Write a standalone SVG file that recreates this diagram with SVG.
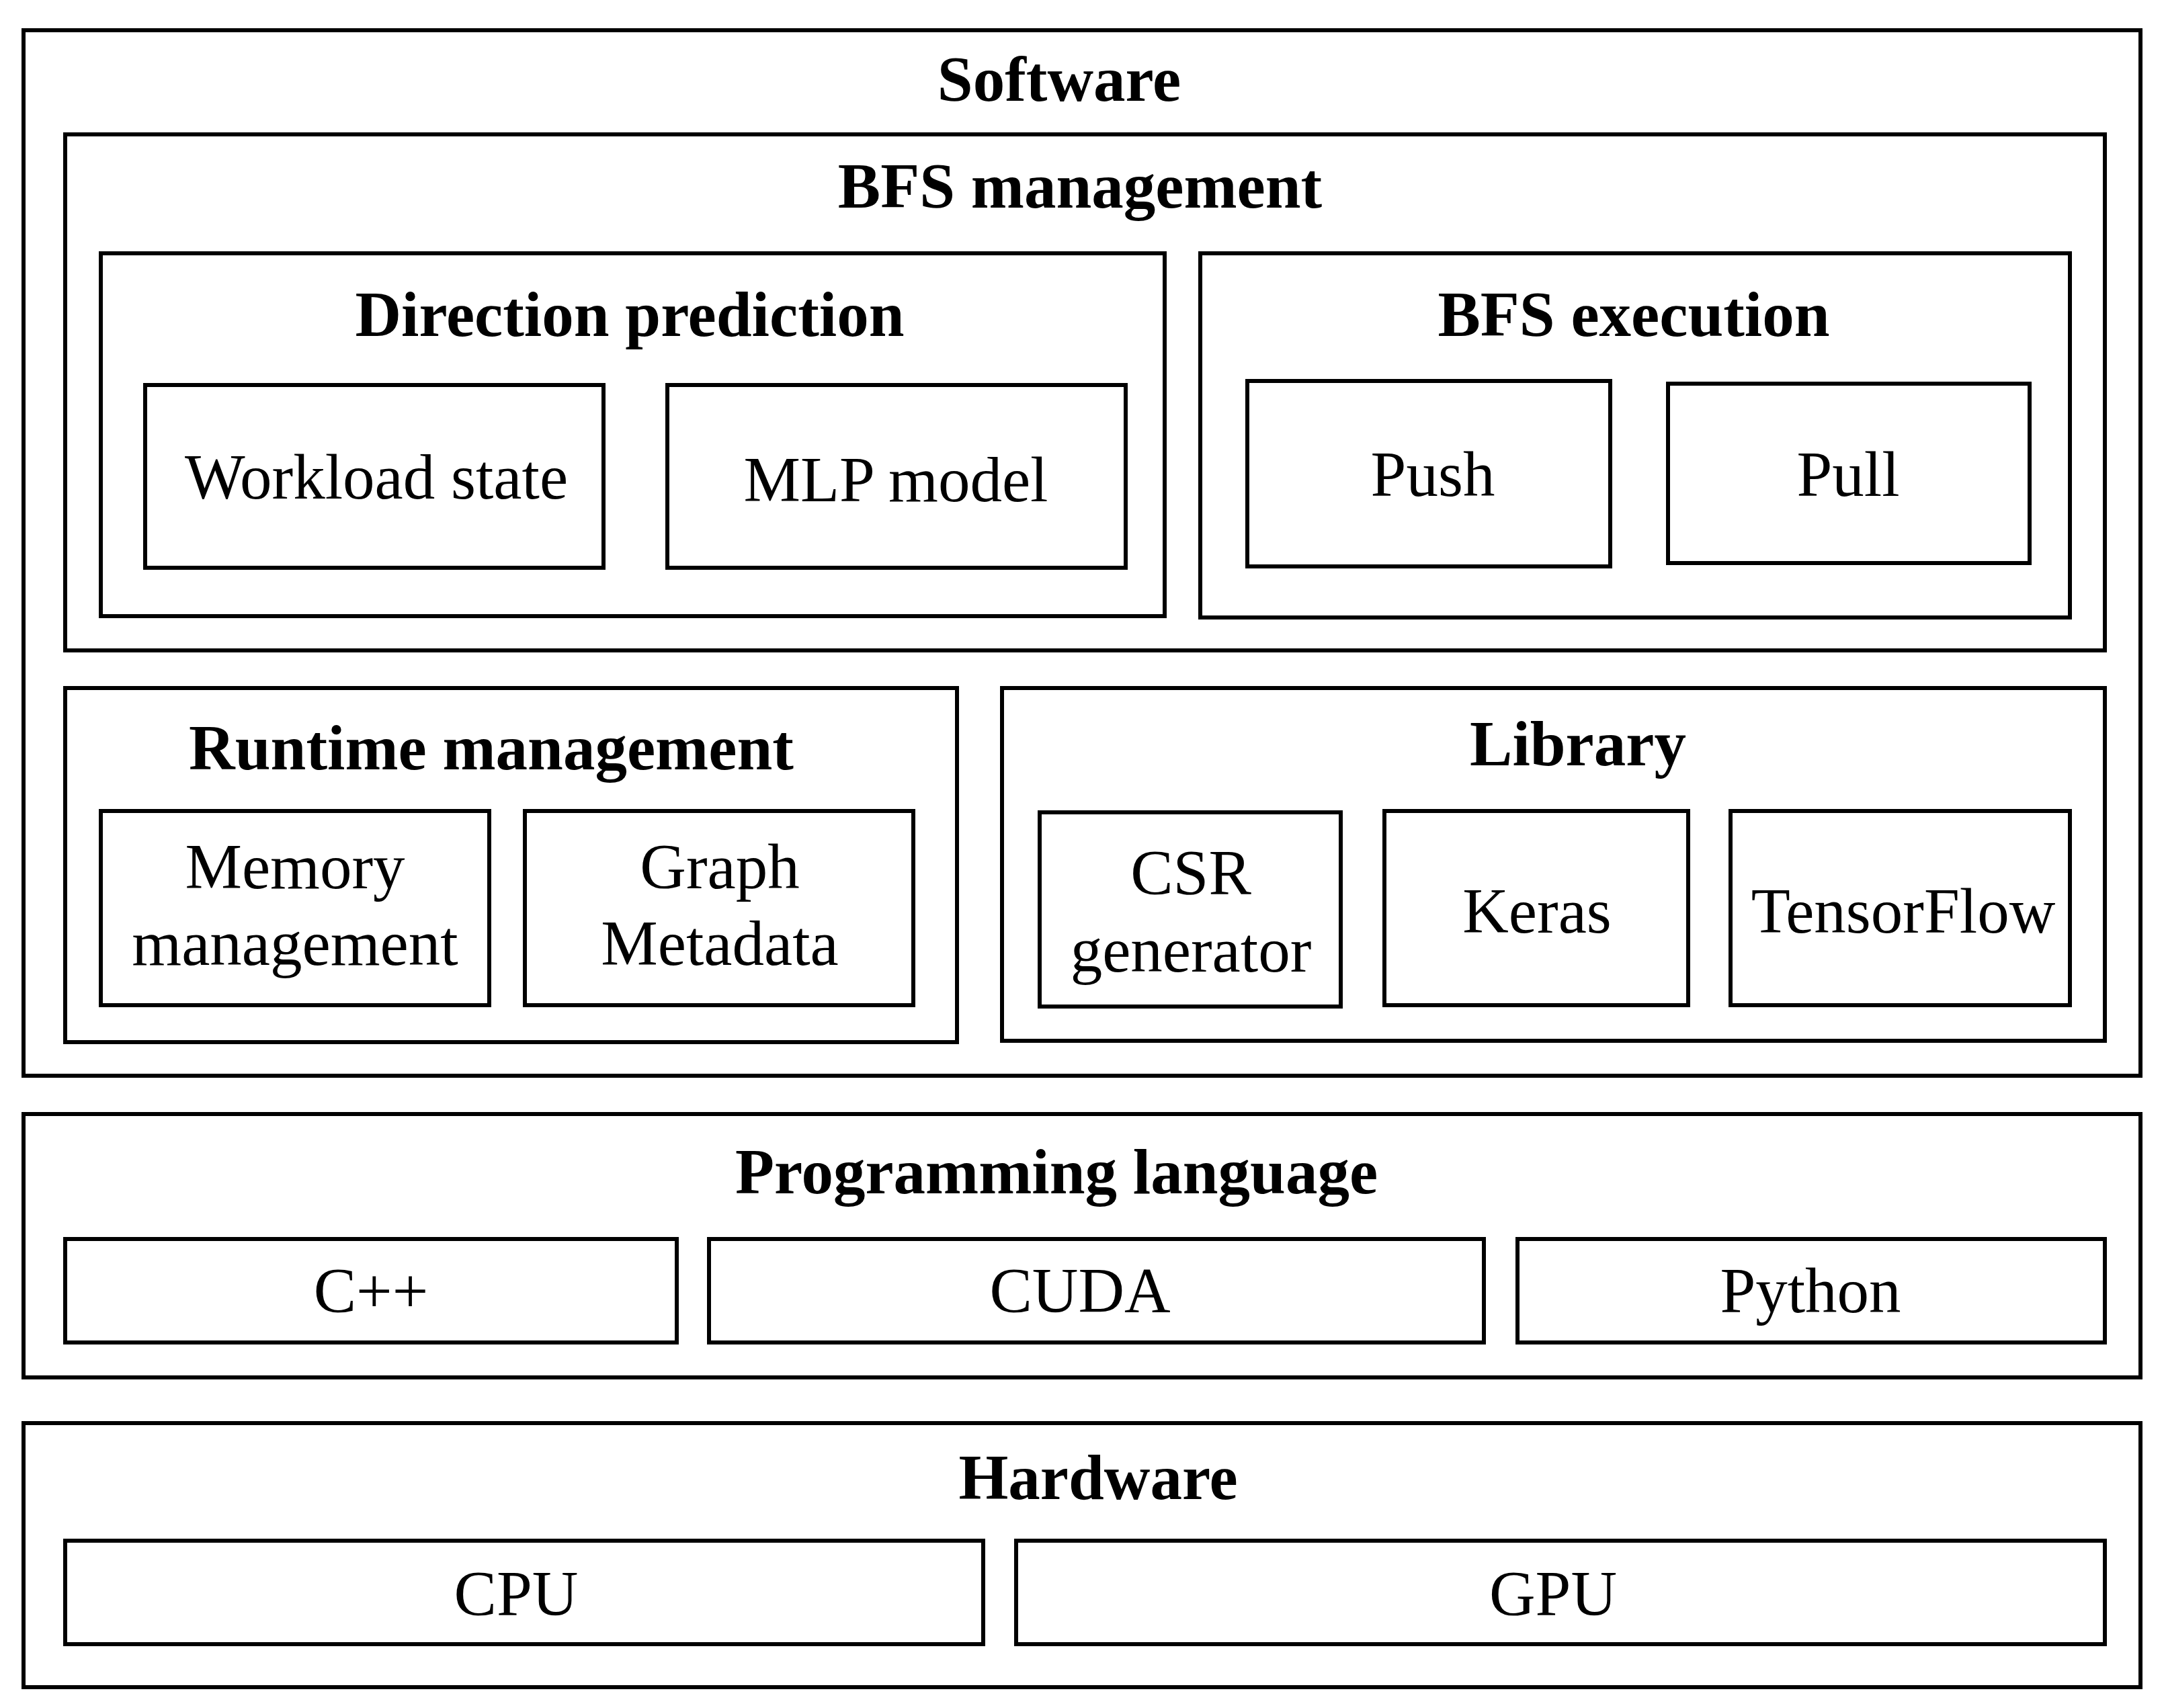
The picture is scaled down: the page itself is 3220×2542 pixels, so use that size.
<svg xmlns="http://www.w3.org/2000/svg" width="3220" height="2542" viewBox="0 0 3220 2542">
<style>
rect{fill:none;stroke:#000;stroke-width:6}
text{font-family:"Liberation Serif","Times New Roman",serif;text-anchor:middle;fill:#000}
.t{font-weight:bold;font-size:95px}
.n{font-size:95px}
</style>
<rect x="0" y="0" width="3220" height="2542" style="fill:#fff;stroke:none"/>
<g id="software"><rect x="35" y="45" width="3150" height="1556"/><text class="t" x="1576" y="150">Software</text></g>
<g id="bfs-management"><rect x="97" y="200" width="3035" height="768"/><text class="t" x="1607" y="309">BFS management</text></g>
<g id="direction-prediction"><rect x="150" y="377" width="1583" height="540"/><text class="t" x="937" y="500">Direction prediction</text></g>
<g id="workload-state"><rect x="216" y="573" width="682" height="272"/><text class="n" x="560" y="742">Workload state</text></g>
<g id="mlp-model"><rect x="993" y="573" width="682" height="272"/><text class="n" x="1333" y="746">MLP model</text></g>
<g id="bfs-execution"><rect x="1786" y="377" width="1294" height="542"/><text class="t" x="2431" y="500">BFS execution</text></g>
<g id="push"><rect x="1856" y="567" width="540" height="276"/><text class="n" x="2132" y="738">Push</text></g>
<g id="pull"><rect x="2482" y="571" width="538" height="267"/><text class="n" x="2750" y="738">Pull</text></g>
<g id="runtime-management"><rect x="97" y="1024" width="1327" height="527"/><text class="t" x="731" y="1145">Runtime management</text></g>
<g id="memory-management"><rect x="150" y="1207" width="578" height="289"/><text class="n" x="439" y="1322">Memory</text><text class="n" x="439" y="1436">management</text></g>
<g id="graph-metadata"><rect x="781" y="1207" width="578" height="289"/><text class="n" x="1071" y="1322">Graph</text><text class="n" x="1071" y="1436">Metadata</text></g>
<g id="library"><rect x="1491" y="1024" width="1641" height="525"/><text class="t" x="2348" y="1139">Library</text></g>
<g id="csr-generator"><rect x="1547" y="1209" width="448" height="289"/><text class="n" x="1772" y="1331">CSR</text><text class="n" x="1772" y="1446">generator</text></g>
<g id="keras"><rect x="2060" y="1207" width="452" height="289"/><text class="n" x="2287" y="1388">Keras</text></g>
<g id="tensorflow"><rect x="2575" y="1207" width="505" height="289"/><text class="n" x="2832" y="1388">TensorFlow</text></g>
<g id="programming-language"><rect x="35" y="1658" width="3150" height="392"/><text class="t" x="1572" y="1776">Programming language</text></g>
<g id="cpp"><rect x="97" y="1844" width="910" height="154"/><text class="n" x="552" y="1953">C++</text></g>
<g id="cuda"><rect x="1055" y="1844" width="1153" height="154"/><text class="n" x="1607" y="1953">CUDA</text></g>
<g id="python"><rect x="2258" y="1844" width="874" height="154"/><text class="n" x="2694" y="1953">Python</text></g>
<g id="hardware"><rect x="35" y="2118" width="3150" height="393"/><text class="t" x="1634" y="2231">Hardware</text></g>
<g id="cpu"><rect x="97" y="2293" width="1366" height="154"/><text class="n" x="768" y="2404">CPU</text></g>
<g id="gpu"><rect x="1512" y="2293" width="1620" height="154"/><text class="n" x="2311" y="2404">GPU</text></g>
<g id="connectors"/>
</svg>
